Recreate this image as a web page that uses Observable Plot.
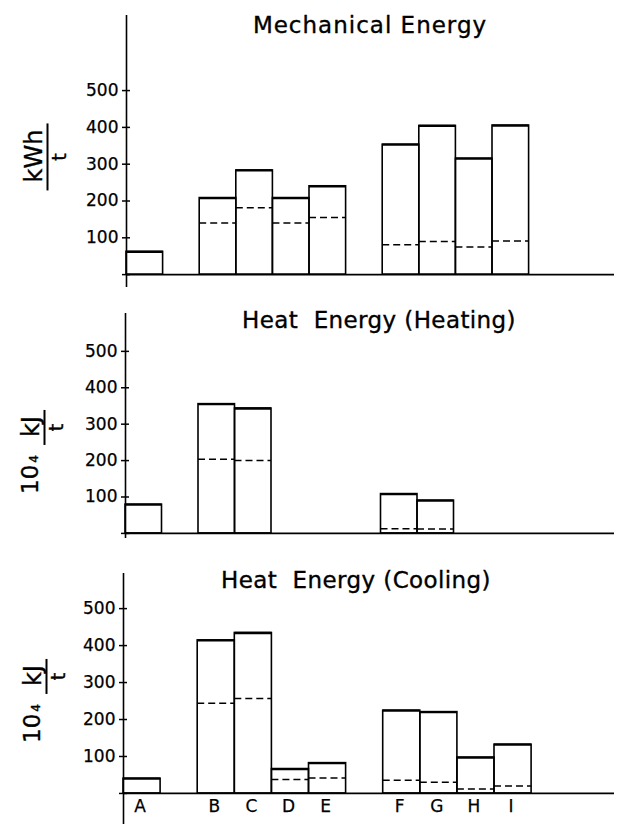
<!DOCTYPE html>
<html>
<head>
<meta charset="utf-8">
<script src="https://cdn.jsdelivr.net/npm/d3@7"></script>
<script src="https://cdn.jsdelivr.net/npm/@observablehq/plot@0.6"></script>
<style>
  html, body { margin: 0; padding: 0; background: #fff; }
  #page { position: relative; width: 620px; height: 824px; overflow: hidden;
          font-family: "DejaVu Sans", sans-serif; color: #000; }
  .panel { position: absolute; left: 0; }
  .panel svg { overflow: visible; }
  .panel svg text { stroke: #000; stroke-width: 0.25px; }
  .title { position: absolute; font-size: 23px; letter-spacing: 1px; line-height: 1;
           white-space: pre; transform: translateX(-50%); -webkit-text-stroke: 0.35px #000; }
  .title.tight { letter-spacing: 0.4px; }
  .unit { position: absolute; display: flex; align-items: flex-start; line-height: 1;
          white-space: nowrap; transform: translate(-50%, -50%) rotate(-90deg);
          -webkit-text-stroke: 0.35px #000; }
  .frac { display: flex; flex-direction: column; align-items: center; }
  .num { font-size: 24px; padding: 0 6px 1px 8px; border-bottom: 2px solid #000; }
  .den { font-size: 19px; margin-top: 1px; }
  .pow { font-size: 23px; margin-right: 10px; }
  .pow small { font-size: 12px; margin-left: 2px; }
</style>
</head>
<body>
<div id="page"></div>
<script>
// Processes A–I, grouped as they appear along the horizontal axis
const categories = ["A", "B", "C", "D", "E", "F", "G", "H", "I"];
const groups = [["A"], ["B", "C", "D", "E"], ["F", "G", "H", "I"]];

// Mechanical energy, kWh/t (total and dashed sub-share)
const mechanicalTotal  = [62, 208, 283, 208, 240, 353, 404, 315, 405];
const mechanicalDashed = [null, 140, 182, 140, 155, 81, 90, 75, 91];

// Heat energy for heating, 10^4 kJ/t
const heatingTotal  = [79, 355, 343, 0, 0, 108, 90, 0, 0];
const heatingDashed = [null, 204, 200, null, null, 13, 12, null, null];

// Heat energy for cooling, 10^4 kJ/t
const coolingTotal  = [40, 414, 434, 66, 82, 224, 220, 97, 132];
const coolingDashed = [null, 244, 257, 38, 42, 36, 30, 12, 20];

const yTicks = [100, 200, 300, 400, 500];
const crossTicks = [0, 100, 200, 300, 400, 500];

// Slot index per category: one empty slot between groups
const slotOf = new Map();
{
  let s = 0;
  groups.forEach((g, gi) => {
    if (gi > 0) s += 1;
    g.forEach(c => { slotOf.set(c, s); s += 1; });
  });
}
const slotCount = Math.max(...slotOf.values()) + 1;

const page = document.getElementById("page");

function drawPanel({top, height, marginTop, marginBottom, yDomain, left, slotWidth,
                    total, dashed, title, titleX, titleTop, titleClass, letters}) {
  const rows = categories.map((c, i) => ({
    cat: c, slot: slotOf.get(c), total: total[i], dashed: dashed[i]
  }));
  const marks = [
    Plot.ruleX([0], {strokeWidth: 1.6}),
    Plot.ruleY([0], {strokeWidth: 1.8}),
    Plot.rect(rows, {
      x1: d => d.slot, x2: d => d.slot + 1, y1: 0, y2: "total",
      fill: "none", stroke: "black", strokeWidth: 1.6
    }),
    Plot.ruleY(rows.filter(d => d.total > 0), {
      x1: d => d.slot, x2: d => d.slot + 1, y: "total", strokeWidth: 2.3
    }),
    Plot.ruleY(rows.filter(d => d.dashed != null), {
      x1: d => d.slot, x2: d => d.slot + 1, y: "dashed",
      strokeWidth: 1.5, strokeDasharray: "7,4"
    }),
    Plot.axisY({ticks: yTicks, tickSize: 0, tickPadding: 8, fontSize: 17}),
    // cross-shaped ticks: one half on each side of the axis line
    Plot.axisY({ticks: crossTicks, tickSize: 4, tickFormat: () => "", strokeWidth: 1.5}),
    Plot.axisY({ticks: crossTicks, tickSize: -4, tickFormat: () => "", strokeWidth: 1.5})
  ];
  if (letters) {
    marks.push(Plot.text(rows, {
      x: d => d.slot + 0.5, y: 0, text: "cat", lineAnchor: "top",
      dy: 6, dx: -2, fontSize: 17
    }));
  }
  const svg = Plot.plot({
    width: 620, height, marginTop, marginBottom, marginLeft: left, marginRight: 6,
    x: {domain: [0, slotCount], range: [left, left + slotCount * slotWidth], axis: null},
    y: {domain: yDomain, axis: null},
    style: {fontFamily: "DejaVu Sans, sans-serif", color: "black", background: "transparent"},
    marks
  });
  const div = document.createElement("div");
  div.className = "panel";
  div.style.top = top + "px";
  div.appendChild(svg);
  page.appendChild(div);

  const t = document.createElement("div");
  t.className = "title" + (titleClass ? " " + titleClass : "");
  t.textContent = title;
  t.style.left = titleX + "px";
  t.style.top = titleTop + "px";
  page.appendChild(t);
}

drawPanel({top: 0, height: 290, marginTop: 15, marginBottom: 3, yDomain: [-35, 704],
  left: 126, slotWidth: 36.6, total: mechanicalTotal, dashed: mechanicalDashed,
  title: "Mechanical Energy", titleX: 370, titleTop: 14});
drawPanel({top: 290, height: 260, marginTop: 23, marginBottom: 12, yDomain: [-14, 604],
  left: 125, slotWidth: 36.5, total: heatingTotal, dashed: heatingDashed,
  title: "Heat  Energy (Heating)", titleX: 379, titleTop: 309, titleClass: "tight"});
drawPanel({top: 550, height: 274, marginTop: 23, marginBottom: 0, yDomain: [-84, 595],
  left: 123, slotWidth: 37.1, total: coolingTotal, dashed: coolingDashed,
  title: "Heat  Energy (Cooling)", titleX: 356, titleTop: 569, titleClass: "tight", letters: true});

// Unit labels on the left, written as vertical fractions
function unit(html, cx, cy) {
  const u = document.createElement("div");
  u.className = "unit";
  u.innerHTML = html;
  u.style.left = cx + "px";
  u.style.top = cy + "px";
  page.appendChild(u);
}
unit('<div class="frac"><div class="num">kWh</div><div class="den">t</div></div>', 45, 157);
unit('<span class="pow">10<small>4</small></span><div class="frac"><div class="num">kJ</div><div class="den">t</div></div>', 42, 452);
unit('<span class="pow">10<small>4</small></span><div class="frac"><div class="num">kJ</div><div class="den">t</div></div>', 44, 701);
</script>
</body>
</html>
